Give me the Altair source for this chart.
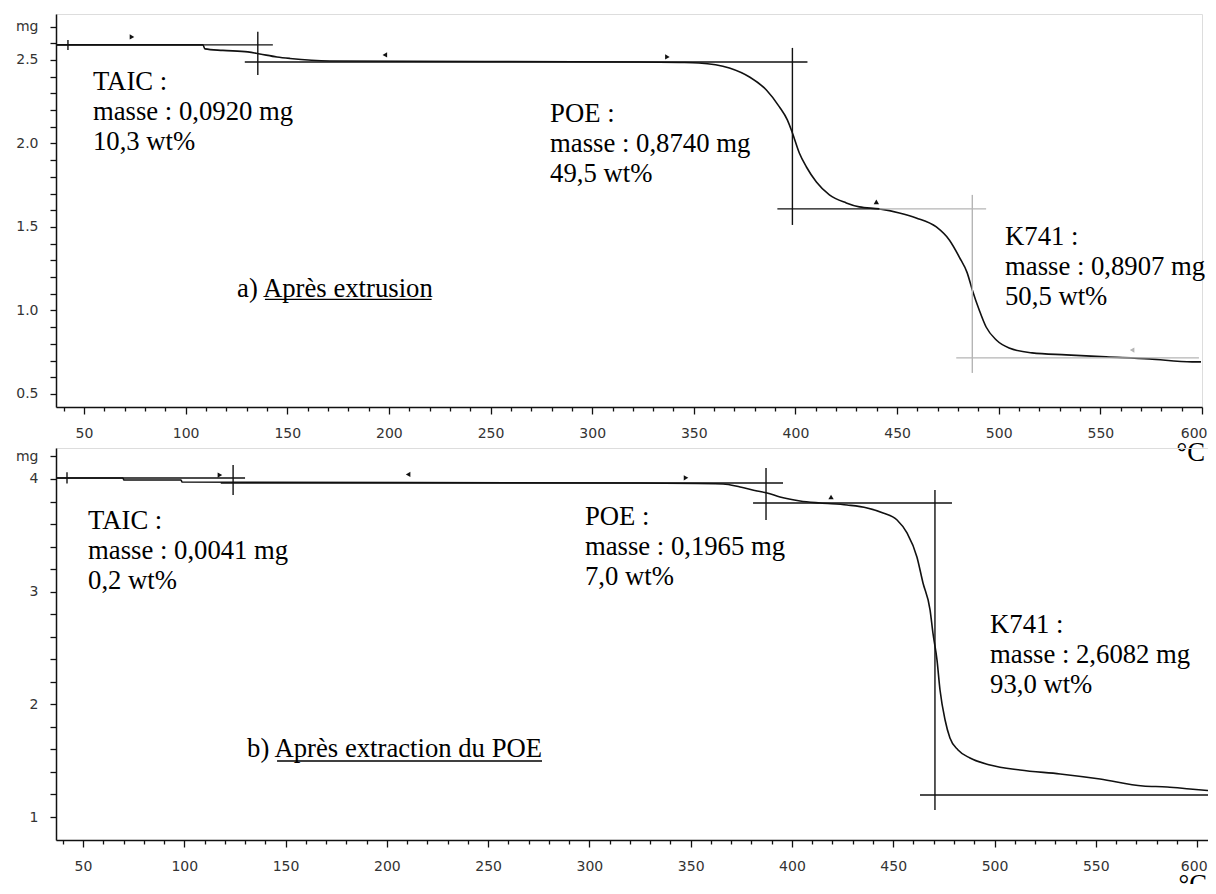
import altair as alt
import pandas as pd

K = "#111111"
G = "#b5b5b5"

# ---------------- panel a) Après extrusion ----------------
a_temp = [36.2, 108.5, 109.5, 118.3, 130.6, 136.5, 144.9, 151.3, 170.9, 323.3, 342.9, 352.5,
          367.5, 377.4, 385.7, 392.1, 396.0, 398.5, 401.9, 405.4, 410.3, 416.7, 425.0, 431.4,
          441.3, 451.1, 459.4, 469.3, 475.7, 480.6, 484.5, 487.0, 490.4, 493.8, 498.8, 505.1,
          516.4, 533.2, 552.8, 574.0, 595.1, 599.5]
a_mass = [2.590, 2.590, 2.566, 2.557, 2.548, 2.536, 2.518, 2.509, 2.494, 2.488, 2.485, 2.482,
          2.452, 2.398, 2.320, 2.219, 2.141, 2.063, 1.943, 1.859, 1.769, 1.692, 1.644, 1.620,
          1.608, 1.584, 1.554, 1.500, 1.422, 1.320, 1.225, 1.123, 1.003, 0.901, 0.823, 0.775,
          0.746, 0.734, 0.722, 0.710, 0.692, 0.692]
a_line_t1 = [36.2, 135.5, 129.1, 398.5, 391.1, 441.3, 487.0, 479.1, 42.1]
a_line_t2 = [142.9, 135.5, 405.9, 398.5, 441.3, 493.8, 487.0, 598.5, 42.1]
a_line_m1 = [2.590, 2.668, 2.488, 2.572, 1.608, 1.608, 1.692, 0.716, 2.620]
a_line_m2 = [2.590, 2.410, 2.488, 1.512, 1.608, 1.608, 0.626, 0.716, 2.560]
a_line_col = [K, K, K, K, K, G, G, G, K]
a_flag_t = [73.6, 198.0, 337.0, 439.8, 565.6]
a_flag_m = [2.638, 2.530, 2.518, 1.650, 0.763]
a_flag_shape = ["triangle-right", "triangle-left", "triangle-right", "triangle-up", "triangle-left"]
a_flag_col = [K, K, K, K, G]
a_text = ["TAIC :\nmasse : 0,0920 mg\n10,3 wt%",
          "POE :\nmasse : 0,8740 mg\n49,5 wt%",
          "K741 :\nmasse : 0,8907 mg\n50,5 wt%",
          "a) Après extrusion"]
a_text_t = [54.4, 279.3, 503.1, 125.3]
a_text_m = [2.320, 2.129, 1.392, 1.081]
a_ul_t1 = [139.0]
a_ul_t2 = [221.0]
a_ul_m = [1.066]
a_unit_t = [601.5]
a_unit_m = [0.100]
a_xdom = [36.22, 600.0]
a_ydom = [0.422, 2.775]
a_yticks = [round(0.5 + 0.1 * i, 1) for i in range(23)]
a_ylabels = ("abs(datum.value - 2.7) < 0.001 ? 'mg' : "
             "(abs(datum.value * 2 - round(datum.value * 2)) < 0.001 ? format(datum.value, '.1f') : '')")

# ---------------- panel b) Après extraction du POE ----------------
b_temp = [36.7, 69.7, 70.2, 98.4, 98.9, 325.0, 366.0, 374.4, 382.8, 387.7, 394.1, 404.0,
          413.9, 427.2, 437.1, 445.0, 451.9, 456.8, 461.7, 464.7, 468.2, 469.6, 471.6, 473.1,
          475.6, 478.0, 482.0, 487.9, 497.8, 512.6, 532.4, 552.1, 573.3, 585.2, 596.5, 605.4]
b_mass = [4.009, 4.009, 3.991, 3.991, 3.973, 3.964, 3.956, 3.929, 3.893, 3.876, 3.840, 3.805,
          3.787, 3.769, 3.743, 3.698, 3.636, 3.521, 3.308, 3.077, 2.837, 2.633, 2.394, 2.127,
          1.861, 1.701, 1.595, 1.524, 1.462, 1.417, 1.382, 1.337, 1.275, 1.267, 1.249, 1.235]
b_line_t1 = [36.7, 124.1, 118.0, 387.2, 380.8, 470.6, 463.2, 42.1]
b_line_t2 = [130.0, 124.1, 395.6, 387.2, 479.0, 470.6, 605.4, 42.1]
b_line_m1 = [4.009, 4.124, 3.964, 4.098, 3.787, 3.902, 1.195, 4.060]
b_line_m2 = [4.009, 3.858, 3.964, 3.636, 3.787, 1.062, 1.195, 3.960]
b_line_col = [K, K, K, K, K, K, K, K]
b_flag_t = [117.6, 210.5, 347.7, 419.3]
b_flag_m = [4.035, 4.040, 4.010, 3.840]
b_flag_shape = ["triangle-right", "triangle-left", "triangle-right", "triangle-up"]
b_flag_col = [K, K, K, K]
b_text = ["TAIC :\nmasse : 0,0041 mg\n0,2 wt%",
          "POE :\nmasse : 0,1965 mg\n7,0 wt%",
          "K741 :\nmasse : 2,6082 mg\n93,0 wt%",
          "b) Après extraction du POE"]
b_text_t = [52.5, 297.8, 497.8, 131.0]
b_text_m = [3.556, 3.592, 2.629, 1.533]
b_ul_t1 = [145.8]
b_ul_t2 = [276.6]
b_ul_m = [1.497]
b_unit_t = [604.9]
b_unit_m = [0.330]
b_xdom = [36.67, 605.4]
b_ydom = [0.796, 4.275]
b_yticks = [round(1.0 + 0.2 * i, 1) for i in range(17)]
b_ylabels = ("abs(datum.value - 4.2) < 0.001 ? 'mg' : "
             "(abs(datum.value - round(datum.value)) < 0.001 ? format(datum.value, '.0f') : '')")

x_ticks = list(range(40, 601, 10))
AXIS_FONT = "DejaVu Sans"
TEXT_FONT = "Liberation Serif"


def panel(temp, mass, lt1, lt2, lm1, lm2, lcol, ft, fm, fshape, fcol,
          txt, tt, tm, ut1, ut2, um, unt, unm, xdom, ydom, yticks, ylabels, w, h, flush_off):
    xs = alt.Scale(domain=xdom, nice=False, zero=False)
    ys = alt.Scale(domain=ydom, nice=False, zero=False)
    xaxis = alt.Axis(values=x_ticks, title=None, grid=False,
                     labelExpr="datum.value % 50 === 0 ? datum.label : ''",
                     tickSize={"condition": {"test": "datum.value % 50 === 0", "value": 7}, "value": 4},
                     labelFont=AXIS_FONT, labelFontSize=14, labelColor="#333333",
                     labelPadding=12, domainColor=K, domainWidth=1.5, tickColor=K, tickWidth=1.3,
                     labelOverlap=False, labelFlush=12, labelFlushOffset=flush_off)
    yaxis = alt.Axis(values=yticks, title=None, grid=False, labelExpr=ylabels,
                     tickSize=6, labelPadding=12, labelFont=AXIS_FONT, labelFontSize=14,
                     labelColor="#333333", domainColor=K, domainWidth=1.5, tickColor=K,
                     tickWidth=1.3, labelOverlap=False)

    def X(f):
        return alt.X(f, type="quantitative", scale=xs, axis=xaxis)

    def Y(f):
        return alt.Y(f, type="quantitative", scale=ys, axis=yaxis)

    curve = alt.Chart(pd.DataFrame({"T": temp, "m": mass})).mark_line(
        color=K, strokeWidth=1.6, interpolate="monotone").encode(x=X("T"), y=Y("m"))

    segs = alt.Chart(pd.DataFrame({"T": lt1, "T2": lt2, "m": lm1, "m2": lm2, "c": lcol})).mark_rule(
        strokeWidth=1.4).encode(x=X("T"), x2=alt.X2("T2"), y=Y("m"), y2=alt.Y2("m2"),
                                color=alt.Color("c:N", scale=None))

    flags = alt.Chart(pd.DataFrame({"T": ft, "m": fm, "s": fshape, "c": fcol})).mark_point(
        filled=True, size=28, opacity=1).encode(x=X("T"), y=Y("m"),
                                                 shape=alt.Shape("s:N", scale=None),
                                                 color=alt.Color("c:N", scale=None))

    notes = alt.Chart(pd.DataFrame({"T": tt, "m": tm, "t": txt})).mark_text(
        align="left", baseline="alphabetic", font=TEXT_FONT, fontSize=26.7, lineHeight=30,
        lineBreak="\n", color="black").encode(x=X("T"), y=Y("m"), text="t:N")

    under = alt.Chart(pd.DataFrame({"T": ut1, "T2": ut2, "m": um})).mark_rule(
        color="black", strokeWidth=1.3).encode(x=X("T"), x2=alt.X2("T2"), y=Y("m"))

    unit = alt.Chart(pd.DataFrame({"T": unt, "m": unm, "t": ["°C"] * len(unt)})).mark_text(
        align="right", baseline="alphabetic", font=TEXT_FONT, fontSize=26.7,
        color="black").encode(x=X("T"), y=Y("m"), text="t:N")

    return alt.layer(curve, segs, flags, notes, under, unit).properties(width=w, height=h)


top = panel(a_temp, a_mass, a_line_t1, a_line_t2, a_line_m1, a_line_m2, a_line_col,
            a_flag_t, a_flag_m, a_flag_shape, a_flag_col, a_text, a_text_t, a_text_m,
            a_ul_t1, a_ul_t2, a_ul_m, a_unit_t, a_unit_m, a_xdom, a_ydom, a_yticks, a_ylabels,
            1146, 393, 5)
bottom = panel(b_temp, b_mass, b_line_t1, b_line_t2, b_line_m1, b_line_m2, b_line_col,
               b_flag_t, b_flag_m, b_flag_shape, b_flag_col, b_text, b_text_t, b_text_m,
               b_ul_t1, b_ul_t2, b_ul_m, b_unit_t, b_unit_m, b_xdom, b_ydom, b_yticks, b_ylabels,
               1152, 392, 10)

chart = alt.vconcat(top, bottom, spacing=41, bounds="flush").properties(
    autosize=alt.AutoSizeParams(type="none"),
    padding={"left": 48, "top": 6, "right": 1152, "bottom": 870}
).configure_view(stroke=None).configure(background="white")

chart.save("out.html", embed_options={"renderer": "svg", "actions": False})
